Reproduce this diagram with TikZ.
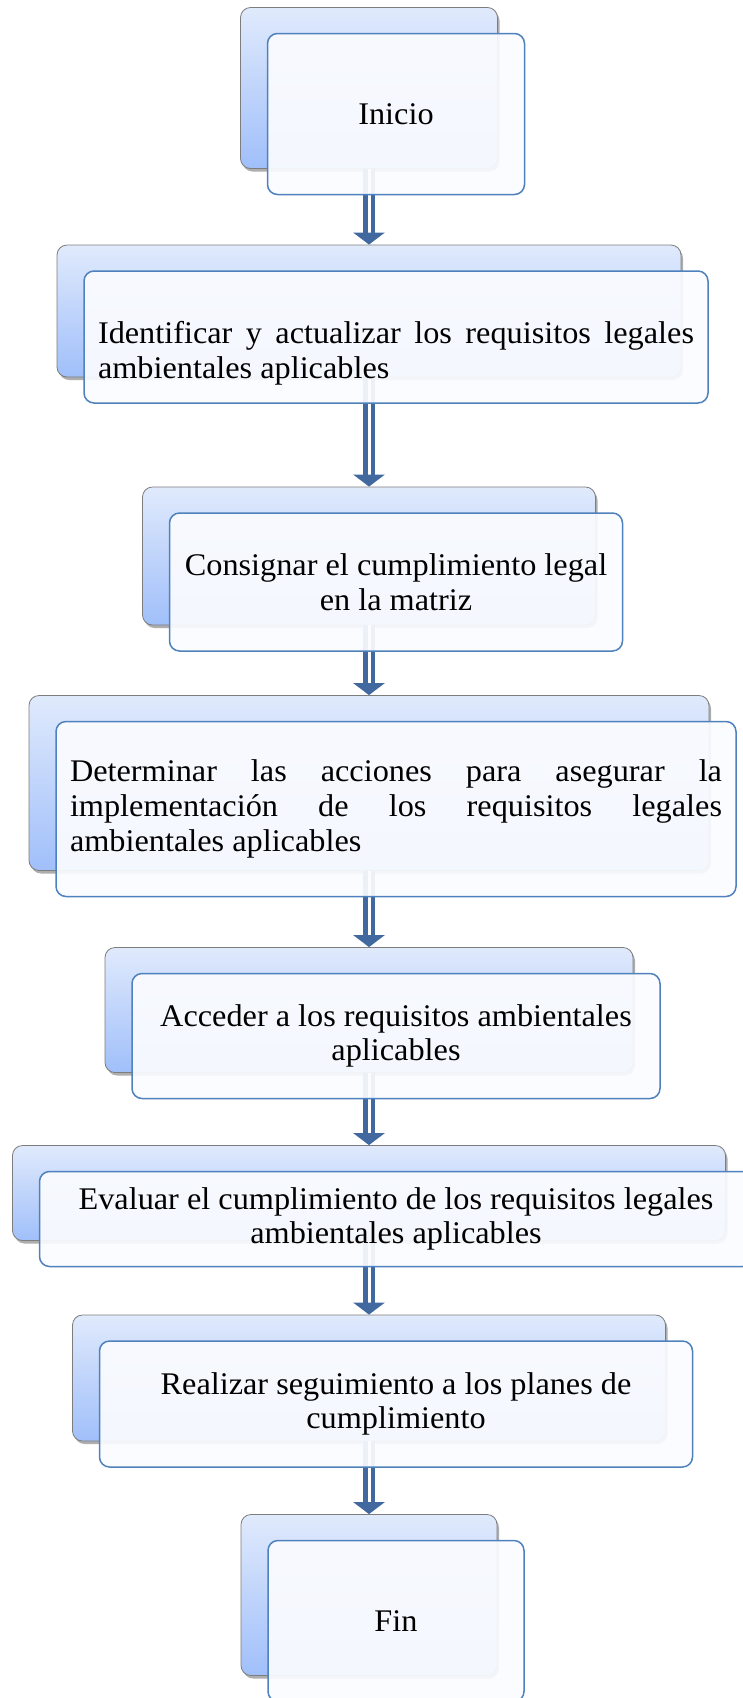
\documentclass[tikz,border=0pt]{standalone}
\usepackage{fontspec}
\setmainfont[FakeStretch=1.025]{Liberation Serif}
\usetikzlibrary{arrows.meta,shadows}
\definecolor{backtop}{RGB}{224,234,252}
\definecolor{backbottom}{RGB}{160,191,250}
\definecolor{backline}{RGB}{125,125,125}
\definecolor{frontline}{RGB}{79,129,189}
\definecolor{frontfill}{RGB}{251,252,255}
\definecolor{arrowblue}{RGB}{65,105,160}

\begin{document}
\begin{tikzpicture}[
x=1pt, y=-1pt,
backbox/.style={
  draw=backline,
  line width=0.8pt,
  rounded corners=10pt,
  top color=backtop, bottom color=backbottom,
  drop shadow={shadow xshift=2pt, shadow yshift=-3pt, fill=black!70, opacity=0.45},
  inner sep=0pt
  },
frontbox/.style={
  draw=frontline,
  line width=1.5pt,
  rounded corners=10pt,
  fill=frontfill, fill opacity=0.92, text opacity=1,
  inner xsep=14pt, inner ysep=0pt,
  align=center,
  font=\fontsize{31.5}{34.7}\selectfont
  },
flowarrow/.style={
  draw=arrowblue, line width=4.5pt,
  double=white, double distance=3pt,
  -{Triangle[width=31pt,length=12pt]}
  }
]
\useasboundingbox (0,0) rectangle (743,1698);
% back boxes
\foreach \n/\cy/\w/\h in {1/88/257/161, 2/311/624/132, 3/556/453/138, 4/783/680/175,
  5/1010/528/125, 6/1193/713/95, 7/1378/593/126, 8/1595/256/161}
  \node[backbox, minimum width=\w, minimum height=\h] (b\n) at (369,\cy) {};
% arrows
\foreach \n [count=\m from 2] in {1,...,7}
  \draw[flowarrow] (b\n.south) -- (b\m.north);
% front boxes
\node[frontbox, minimum width=257, minimum height=161] (f1) at ([shift={(27,26)}]b1) {Inicio};
\node[frontbox, minimum width=624, minimum height=132, text width=596, align=justify] (f2) at ([shift={(27,26)}]b2)
  {\rule{0pt}{55pt}\makebox[\hsize][s]{Identificar y actualizar los requisitos legales}\\ambientales aplicables};
\node[frontbox, minimum width=453, minimum height=138] (f3) at ([shift={(27,26)}]b3)
  {Consignar el cumplimiento legal\\en la matriz};
\node[frontbox, minimum width=680, minimum height=175, text width=652, align=justify] (f4) at ([shift={(27,26)}]b4)
  {\makebox[\hsize][s]{Determinar las acciones para asegurar la}\\
   \makebox[\hsize][s]{implementación de los requisitos legales}\\ambientales aplicables};
\node[frontbox, minimum width=528, minimum height=125] (f5) at ([shift={(27,26)}]b5)
  {Acceder a los requisitos ambientales\\aplicables};
\node[frontbox, minimum width=713, minimum height=95] (f6) at ([shift={(27,26)}]b6)
  {Evaluar el cumplimiento de los requisitos legales\\ambientales aplicables};
\node[frontbox, minimum width=593, minimum height=126] (f7) at ([shift={(27,26)}]b7)
  {Realizar seguimiento a los planes de\\cumplimiento};
\node[frontbox, minimum width=256, minimum height=161] (f8) at ([shift={(27,26)}]b8) {Fin};
\end{tikzpicture}
\end{document}
